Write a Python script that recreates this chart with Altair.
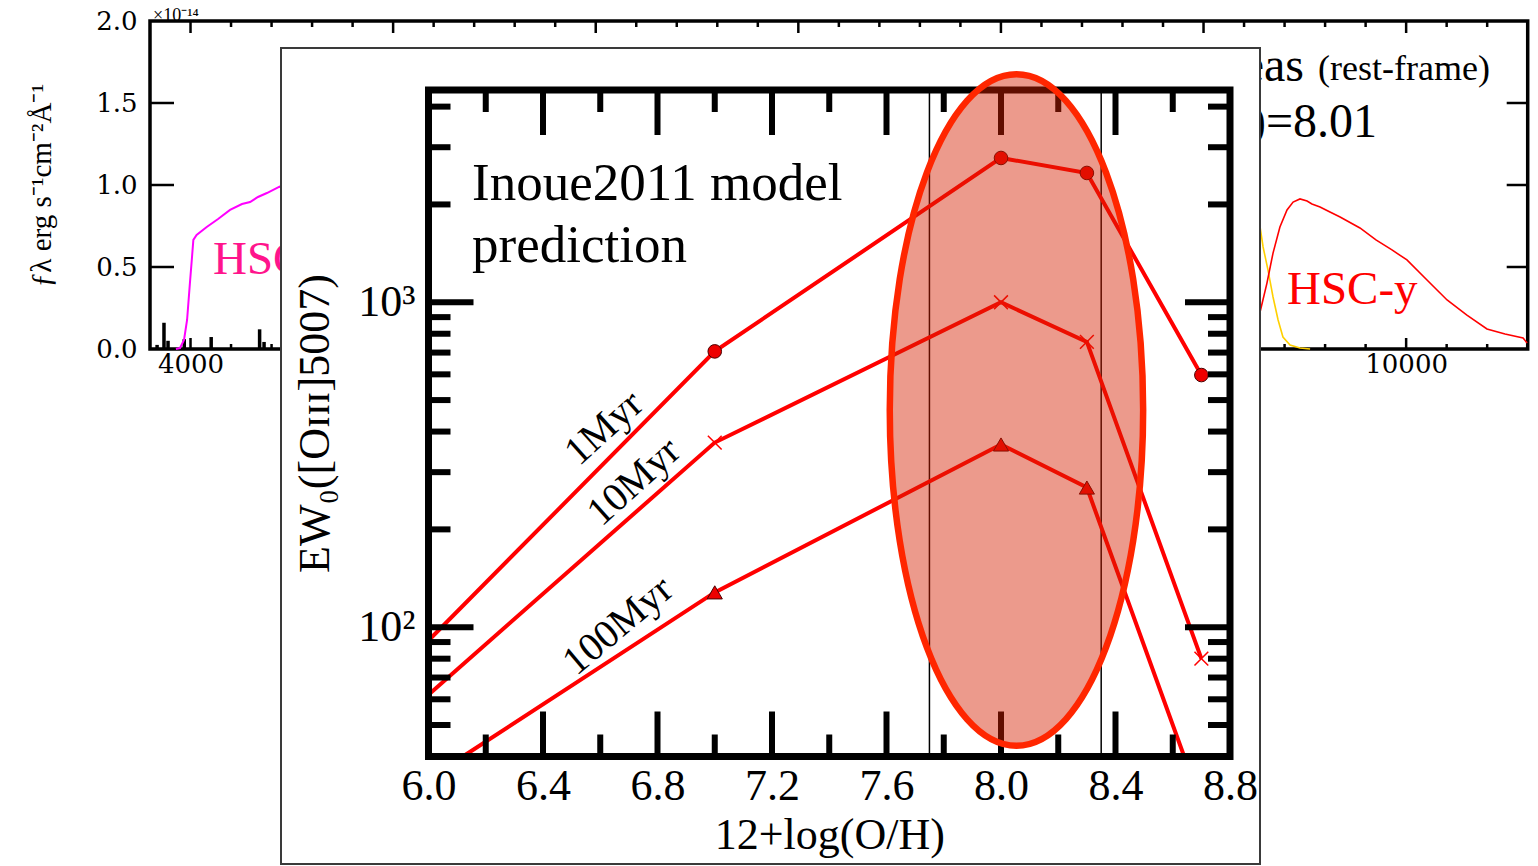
import altair as alt
import pandas as pd

W, H = 1538, 866

# ---------------- background spectrum panel ----------------
BG_WL_DOMAIN = [3800, 10600]
BG_FLUX_DOMAIN = [0.0, 2.0]
BG_X_LABELS = [4000, 5000, 6000, 7000, 8000, 9000, 10000]
BG_X_MINOR = [4200, 4400, 4600, 4800, 5200, 5400, 5600, 5800, 6200, 6400, 6600, 6800,
              7200, 7400, 7600, 7800, 8200, 8400, 8600, 8800, 9200, 9400, 9600, 9800,
              10200, 10400]
BG_Y_LABELS = [0.0, 0.5, 1.0, 1.5, 2.0]
BG_Y_TICKS = [0.5, 1.0, 1.5]

# emission lines of the stacked spectrum (visible part)
LINE_WL = [3835, 3869, 3889, 3969, 4102, 4341, 4363]
LINE_FLUX = [0.025, 0.16, 0.05, 0.06, 0.073, 0.12, 0.043]

# HSC-g filter curve (visible part)
G_WL = [3928, 3948, 3968, 3983, 3997, 4007, 4014, 4030, 4080, 4136, 4195, 4254, 4294,
        4333, 4377, 4437, 4491]
G_T = [0.0, 0.006, 0.055, 0.177, 0.402, 0.555, 0.665, 0.695, 0.744, 0.793, 0.848, 0.884,
       0.896, 0.927, 0.951, 0.988, 1.018]

# HSC-z filter curve (visible part)
Z_WL = [9269, 9279, 9294, 9318, 9343, 9368, 9392, 9427, 9476, 9526]
Z_T = [0.774, 0.744, 0.622, 0.482, 0.317, 0.177, 0.073, 0.024, 0.006, 0.0]

# HSC-y filter curve (visible part)
Y_WL = [9269, 9279, 9313, 9343, 9377, 9412, 9442, 9476, 9511, 9535, 9575, 9624, 9674,
        9772, 9851, 9930, 10004, 10103, 10202, 10300, 10399, 10488, 10577, 10597]
Y_T = [0.189, 0.226, 0.402, 0.585, 0.744, 0.848, 0.896, 0.915, 0.902, 0.884, 0.866, 0.835,
       0.805, 0.738, 0.665, 0.604, 0.543, 0.421, 0.299, 0.207, 0.122, 0.091, 0.067, 0.037]

BG_YTITLE = "ƒλ erg s⁻¹cm⁻²Å⁻¹"

# ---------------- inset: model prediction ----------------
IN_OH_DOMAIN = [6.0, 8.8]
IN_EW_DOMAIN = [40, 4500]
IN_X_LABELS = [6.0, 6.4, 6.8, 7.2, 7.6, 8.0, 8.4, 8.8]
IN_X_MAJOR = [6.4, 6.8, 7.2, 7.6, 8.0, 8.4]
IN_X_MINOR = [6.2, 6.6, 7.0, 7.4, 7.8, 8.2, 8.6]
IN_Y_MAJOR = [100, 1000]
IN_Y_MINOR = [50, 60, 70, 80, 90, 200, 300, 400, 500, 600, 700, 800, 900, 2000, 3000, 4000]

OH_1MYR = [6.0, 7.0, 8.0, 8.3, 8.7]
EW_1MYR = [91, 706, 2780, 2500, 597]
OH_10MYR = [6.0, 7.0, 8.0, 8.3, 8.7]
EW_10MYR = [62, 370, 1000, 755, 80]
OH_100MYR = [6.12, 7.0, 8.0, 8.3, 8.64]
EW_100MYR = [40, 128, 365, 269, 40]

BOUNDS_OH = [7.75, 8.35]

AGE_LABELS = ["1Myr", "10Myr", "100Myr"]
AGE_LABEL_OH = [6.613, 6.718, 6.662]
AGE_LABEL_EW = [410, 280, 101]
AGE_LABEL_ANGLE = [318, 318, 320]

ELLIPSE_OH = [8.054]
ELLIPSE_EW = [466]
ELLIPSE_PATH = "M0,-1A0.3774,1,0,1,1,0,1A0.3774,1,0,1,1,0,-1Z"

SERIF = "Liberation Serif"


def bg_x(field, axis=None):
    return alt.X(field, type="quantitative", axis=axis,
                 scale=alt.Scale(domain=BG_WL_DOMAIN, range=[150, 1527.7], nice=False, zero=False))


def bg_y(field, axis=None):
    return alt.Y(field, type="quantitative", axis=axis,
                 scale=alt.Scale(domain=BG_FLUX_DOMAIN, range=[349, 21], nice=False, zero=False))


def in_x(field, axis=None):
    return alt.X(field, type="quantitative", axis=axis,
                 scale=alt.Scale(domain=IN_OH_DOMAIN, range=[428.5, 1230], nice=False, zero=False))


def in_y(field, axis=None):
    return alt.Y(field, type="quantitative", axis=axis,
                 scale=alt.Scale(type="log", domain=IN_EW_DOMAIN, range=[756.5, 90], nice=False))


layers = []

# ---- background axes (labels only, drawn behind all marks) ----
bg_carrier = alt.Chart(pd.DataFrame({"w": BG_WL_DOMAIN, "f": BG_FLUX_DOMAIN})).mark_point(opacity=0).encode(
    x=bg_x("w", alt.Axis(orient="bottom", offset=-515, values=BG_X_LABELS, format="d",
                         domain=False, ticks=False, tickSize=0, grid=False,
                         labelFont="DejaVu Serif", labelFontSize=26, labelColor="black",
                         labelPadding=0, labelFlush=False, labelOverlap=False,
                         title=None, zindex=0)),
    y=bg_y("f", alt.Axis(orient="left", offset=-148, values=BG_Y_LABELS, format=".1f",
                         domain=False, ticks=False, tickSize=0, grid=False,
                         labelFont="DejaVu Serif", labelFontSize=26, labelColor="black",
                         labelPadding=11, labelFlush=False, labelOverlap=False,
                         title=BG_YTITLE, titleFont=SERIF, titleFontSize=29,
                         titleFontWeight="normal", titleColor="black",
                         titleX=-98, titleY=185, titleAngle=270,
                         titleBaseline="alphabetic", titleAlign="center", zindex=0)),
)
layers.append(bg_carrier)

# emission lines
layers.append(
    alt.Chart(pd.DataFrame({"w": LINE_WL, "f": LINE_FLUX, "z": 0.0})).mark_rule(
        color="black", strokeWidth=3.5).encode(x=bg_x("w"), y=bg_y("f"), y2="z")
)

# background inward ticks
def bg_ticks_x(vals, fval, length, sign):
    return alt.Chart(pd.DataFrame({"w": vals, "f": fval})).mark_tick(
        orient="vertical", size=length, thickness=2.5, color="black", opacity=1,
        yOffset=sign * length / 2).encode(x=bg_x("w"), y=bg_y("f"))


def bg_ticks_y(vals, wval, length, sign):
    return alt.Chart(pd.DataFrame({"w": wval, "f": vals})).mark_tick(
        orient="horizontal", size=length, thickness=2.5, color="black", opacity=1,
        xOffset=sign * length / 2).encode(x=bg_x("w"), y=bg_y("f"))


layers += [
    bg_ticks_x(BG_X_LABELS, 2.0, 12, 1), bg_ticks_x(BG_X_MINOR, 2.0, 6, 1),
    bg_ticks_x(BG_X_LABELS, 0.0, 11, -1), bg_ticks_x(BG_X_MINOR, 0.0, 5, -1),
    bg_ticks_y(BG_Y_TICKS, 3800, 24, 1), bg_ticks_y(BG_Y_TICKS, 10600, 21, -1),
]

# background frame
layers.append(
    alt.Chart(pd.DataFrame({"w0": [BG_WL_DOMAIN[0]], "w1": [BG_WL_DOMAIN[1]],
                            "f0": [BG_FLUX_DOMAIN[0]], "f1": [BG_FLUX_DOMAIN[1]]})).mark_rect(
        filled=False, color="black", strokeWidth=3.5).encode(
        x=bg_x("w0"), x2="w1", y=bg_y("f0"), y2="f1")
)

# filter curves
for wl, tt, col, sw in [(G_WL, G_T, "#ff00ff", 2), (Z_WL, Z_T, "#ffd000", 1.6), (Y_WL, Y_T, "#ff0000", 1.6)]:
    layers.append(
        alt.Chart(pd.DataFrame({"w": wl, "f": tt})).mark_line(color=col, strokeWidth=sw).encode(
            x=bg_x("w"), y=bg_y("f"))
    )


def bg_text(txt, w, f, size, color, align, font=SERIF):
    return alt.Chart(pd.DataFrame({"t": [txt], "w": [w], "f": [f]})).mark_text(
        font=font, fontSize=size, color=color, align=align, baseline="alphabetic").encode(
        x=bg_x("w"), y=bg_y("f"), text="t:N")


layers += [
    bg_text("HSC-g", 4111, 0.46, 47, "#ff148c", "left"),
    bg_text("HSC-y", 9412, 0.274, 47, "#ff0000", "left"),
    bg_text("Green Peas", 9496, 1.634, 48, "black", "right"),
    bg_text("(rest-frame)", 9565, 1.640, 36, "black", "left"),
    bg_text("12+log(O/H)=8.01", 9856, 1.293, 48, "black", "right"),
    bg_text("×10⁻¹⁴", 3815, 2.0, 18, "black", "left"),
]

# ---- inset panel (white card) ----
layers.append(
    alt.Chart(pd.DataFrame({"a": [0]})).mark_rect(fill="white", stroke="#3a3a3a", strokeWidth=2).encode(
        x=alt.value(281), x2=alt.value(1260), y=alt.value(48), y2=alt.value(864))
)

# metallicity bounds
layers.append(
    alt.Chart(pd.DataFrame({"x": BOUNDS_OH, "y0": IN_EW_DOMAIN[0], "y1": IN_EW_DOMAIN[1]})).mark_rule(
        color="black", strokeWidth=1.5).encode(x=in_x("x"), y=in_y("y0"), y2="y1")
)

# model lines
model = pd.concat([
    pd.DataFrame({"oh": OH_1MYR, "ew": EW_1MYR, "age": "1Myr"}),
    pd.DataFrame({"oh": OH_10MYR, "ew": EW_10MYR, "age": "10Myr"}),
    pd.DataFrame({"oh": OH_100MYR, "ew": EW_100MYR, "age": "100Myr"}),
])
layers.append(
    alt.Chart(model).mark_line(color="#ff0000", strokeWidth=4).encode(
        x=in_x("oh"), y=in_y("ew"), detail="age:N")
)

# markers
layers.append(
    alt.Chart(pd.DataFrame({"oh": OH_1MYR[1:], "ew": EW_1MYR[1:]})).mark_point(
        shape="circle", filled=True, color="#ee0000", stroke="#4a0000", strokeWidth=1,
        size=185, opacity=1).encode(x=in_x("oh"), y=in_y("ew"))
)
layers.append(
    alt.Chart(pd.DataFrame({"oh": OH_10MYR[1:], "ew": EW_10MYR[1:]})).mark_point(
        shape="M-1,-1L1,1M-1,1L1,-1", filled=False, color="#ff0000", strokeWidth=1.5,
        size=190, opacity=1).encode(x=in_x("oh"), y=in_y("ew"))
)
layers.append(
    alt.Chart(pd.DataFrame({"oh": OH_100MYR[1:4], "ew": EW_100MYR[1:4]})).mark_point(
        shape="triangle-up", filled=True, color="#ee0000", stroke="#4a0000", strokeWidth=1,
        size=230, opacity=1).encode(x=in_x("oh"), y=in_y("ew"))
)

# inset frame
layers.append(
    alt.Chart(pd.DataFrame({"x0": [IN_OH_DOMAIN[0]], "x1": [IN_OH_DOMAIN[1]],
                            "y0": [IN_EW_DOMAIN[0]], "y1": [IN_EW_DOMAIN[1]]})).mark_rect(
        filled=False, color="black", strokeWidth=7).encode(
        x=in_x("x0"), x2="x1", y=in_y("y0"), y2="y1")
)


def in_ticks_x(vals, yval, length, sign):
    return alt.Chart(pd.DataFrame({"x": vals, "y": yval})).mark_tick(
        orient="vertical", size=length, thickness=6, color="black", opacity=1,
        yOffset=sign * length / 2).encode(x=in_x("x"), y=in_y("y"))


def in_ticks_y(vals, xval, length, sign):
    return alt.Chart(pd.DataFrame({"x": xval, "y": vals})).mark_tick(
        orient="horizontal", size=length, thickness=6, color="black", opacity=1,
        xOffset=sign * length / 2).encode(x=in_x("x"), y=in_y("y"))


layers += [
    in_ticks_x(IN_X_MAJOR, IN_EW_DOMAIN[0], 45, -1), in_ticks_x(IN_X_MINOR, IN_EW_DOMAIN[0], 22, -1),
    in_ticks_x(IN_X_MAJOR, IN_EW_DOMAIN[1], 45, 1), in_ticks_x(IN_X_MINOR, IN_EW_DOMAIN[1], 22, 1),
    in_ticks_y(IN_Y_MAJOR, IN_OH_DOMAIN[0], 45, 1), in_ticks_y(IN_Y_MINOR, IN_OH_DOMAIN[0], 22, 1),
    in_ticks_y(IN_Y_MAJOR, IN_OH_DOMAIN[1], 45, -1), in_ticks_y(IN_Y_MINOR, IN_OH_DOMAIN[1], 22, -1),
]

# inset annotations
layers.append(
    alt.Chart(pd.DataFrame({"t": ["Inoue2011 model\nprediction"], "x": [6.152], "y": [2065]})).mark_text(
        font=SERIF, fontSize=53, color="black", align="left", baseline="alphabetic",
        lineBreak="\n", lineHeight=62).encode(x=in_x("x"), y=in_y("y"), text="t:N")
)
layers.append(
    alt.Chart(pd.DataFrame({"t": AGE_LABELS, "x": AGE_LABEL_OH, "y": AGE_LABEL_EW,
                            "a": AGE_LABEL_ANGLE})).mark_text(
        font=SERIF, fontSize=40, color="black", align="center", baseline="middle").encode(
        x=in_x("x"), y=in_y("y"), text="t:N", angle=alt.Angle("a:Q", scale=None))
)

# highlighted region
layers.append(
    alt.Chart(pd.DataFrame({"x": ELLIPSE_OH, "y": ELLIPSE_EW})).mark_point(
        shape=ELLIPSE_PATH, size=450778, filled=True, fill="#d41e00", fillOpacity=0.45,
        stroke="#ff2600", strokeWidth=6.5, strokeOpacity=1, opacity=1).encode(
        x=in_x("x"), y=in_y("y"))
)

# inset axes (labels + titles, on top)
in_carrier = alt.Chart(pd.DataFrame({"x": IN_OH_DOMAIN, "y": IN_EW_DOMAIN})).mark_point(opacity=0).encode(
    x=in_x("x", alt.Axis(orient="bottom", offset=-106, values=IN_X_LABELS, format=".1f",
                         domain=False, ticks=False, tickSize=0, grid=False,
                         labelFont=SERIF, labelFontSize=44, labelColor="black",
                         labelPadding=4, labelFlush=False, labelOverlap=False,
                         title="12+log(O/H)", titleFont=SERIF, titleFontSize=44,
                         titleFontWeight="normal", titleColor="black", titleY=88,
                         titleBaseline="alphabetic", zindex=1)),
    y=in_y("y", alt.Axis(orient="left", offset=-425, values=IN_Y_MAJOR,
                         labelExpr="datum.value >= 1000 ? '10³' : '10²'",
                         domain=False, ticks=False, tickSize=0, grid=False,
                         labelFont=SERIF, labelFontSize=44, labelColor="black",
                         labelPadding=10, labelFlush=False, labelOverlap=False,
                         title="EW₀([Oɪɪɪ]5007)", titleFont=SERIF, titleFontSize=44,
                         titleFontWeight="normal", titleColor="black",
                         titleX=-97, titleY=423, titleAngle=270,
                         titleBaseline="alphabetic", titleAlign="center", zindex=1)),
)
layers.append(in_carrier)

chart = alt.layer(*layers).resolve_scale(x="independent", y="independent").properties(
    width=W, height=H, padding=0, background="white",
    autosize=alt.AutoSizeParams(type="none"),
).configure_view(strokeWidth=0)

chart.save("out.html", embed_options={"renderer": "svg", "actions": False})
